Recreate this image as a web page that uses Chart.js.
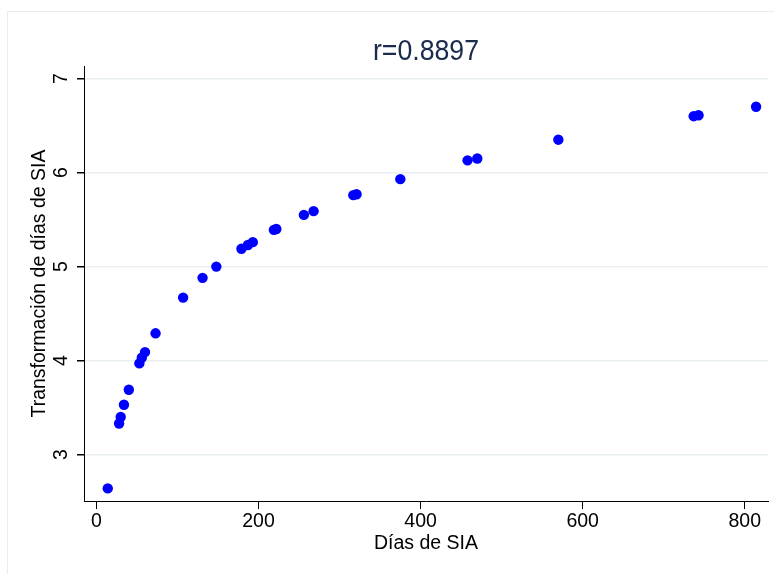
<!DOCTYPE html>
<html>
<head>
<meta charset="utf-8">
<title>r=0.8897</title>
<script src="https://cdn.jsdelivr.net/npm/chart.js@4/dist/chart.umd.min.js"></script>
<style>
    html, body { margin: 0; padding: 0; background: #fff; overflow: hidden; }
    #frame {
        position: absolute; left: 7px; top: 11px;
        width: 820px; height: 620px;
        border: 1px solid #ebebeb;
    }
    #wrap { position: absolute; left: 0; top: 0; width: 774px; height: 574px; }
</style>
</head>
<body>
<div id="frame"></div>
<div id="wrap"><canvas id="scatter" width="774" height="574"></canvas></div>
<script>
// days in SIA and their transformed values
const diasSIA = [14, 28, 30, 34, 40, 53, 56, 60, 73, 107, 131, 148, 179, 187, 193,
    219, 222, 256, 268, 317, 321, 375, 458, 470, 570, 737, 743, 814];
const transfDias = [2.64, 3.33, 3.40, 3.53, 3.69, 3.97, 4.03, 4.09, 4.29, 4.67, 4.88, 5.00, 5.19, 5.23, 5.26,
    5.39, 5.40, 5.55, 5.59, 5.76, 5.77, 5.93, 6.13, 6.15, 6.35, 6.60, 6.61, 6.70];

const xTicks = [0, 200, 400, 600, 800];
const yTicks = [3, 4, 5, 6, 7];
const corrLabel = 'r=0.8897';

const FONT = '"Liberation Sans", Arial, Helvetica, sans-serif';

// title sits centered over the plot area, drawn slightly condensed
const plotTitle = {
    id: 'plotTitle',
    afterDraw(chart) {
        const { ctx, chartArea } = chart;
        const cx = (chartArea.left + chartArea.right) / 2;
        ctx.save();
        ctx.font = '29px ' + FONT;
        ctx.fillStyle = '#1b2b4e';
        ctx.textAlign = 'center';
        ctx.textBaseline = 'alphabetic';
        ctx.translate(cx, 60);
        ctx.scale(0.92, 1);
        ctx.fillText(corrLabel, 0, 0);
        ctx.restore();
    }
};

const points = diasSIA.map((d, i) => ({ x: d, y: transfDias[i] }));

new Chart(document.getElementById('scatter'), {
    type: 'scatter',
    data: {
        datasets: [{
            data: points,
            backgroundColor: '#0000ff',
            borderColor: '#0000ff',
            borderWidth: 0,
            pointRadius: 5.2,
            pointHoverRadius: 5.2
        }]
    },
    options: {
        responsive: false,
        animation: false,
        layout: { padding: { left: 0, right: 6, top: 66, bottom: 0 } },
        scales: {
            x: {
                type: 'linear',
                min: -15.3,
                max: 828.7,
                afterBuildTicks: s => { s.ticks = xTicks.map(v => ({ value: v })); },
                afterFit: s => { s.height = 73; },
                border: { color: '#000', width: 1 },
                grid: { drawOnChartArea: false, tickLength: 8, tickColor: '#000' },
                ticks: { color: '#000', font: { family: FONT, size: 19.5 }, padding: 1, maxRotation: 0 },
                title: {
                    display: true,
                    text: 'Días de SIA',
                    color: '#000',
                    font: { family: FONT, size: 19.5 },
                    padding: { top: 0, bottom: 19 }
                }
            },
            y: {
                type: 'linear',
                min: 2.506,
                max: 7.134,
                afterBuildTicks: s => { s.ticks = yTicks.map(v => ({ value: v })); },
                afterFit: s => { s.width = 84; },
                border: { color: '#000', width: 1 },
                grid: { color: '#eaf0f2', lineWidth: 1.5, tickLength: 7, tickColor: '#000' },
                ticks: {
                    color: '#000',
                    font: { family: FONT, size: 19.5 },
                    minRotation: 90,
                    maxRotation: 90,
                    crossAlign: 'center',
                    padding: 10
                },
                title: {
                    display: true,
                    text: 'Transformación de días de SIA',
                    color: '#000',
                    font: { family: FONT, size: 19.5 },
                    padding: { top: 28, bottom: 0 }
                }
            }
        },
        plugins: {
            legend: { display: false },
            tooltip: { enabled: false }
        }
    },
    plugins: [plotTitle]
});
</script>
</body>
</html>
